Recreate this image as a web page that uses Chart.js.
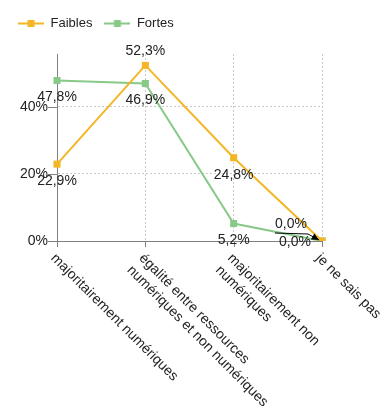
<!DOCTYPE html>
<html>
<head>
<meta charset="utf-8">
<script src="https://cdn.jsdelivr.net/npm/chart.js@4.4.1/dist/chart.umd.min.js"></script>
<style>
  html, body { margin: 0; padding: 0; background: #fff; }
  #wrap { width: 390px; height: 407px; }
</style>
</head>
<body>
<div id="wrap"><canvas id="chart"></canvas></div>
<script>
// categories (multi-line labels)
const categories = [
  ["majoritairement numériques"],
  ["égalité entre ressources", "numériques et non numériques"],
  ["majoritairement non", "numériques"],
  ["je ne sais pas"]
];
const faibles = [22.9, 52.3, 24.8, 0.0];
const fortes = [47.8, 46.9, 5.2, 0.0];
const yTicks = [0, 20, 40];
const yMax = 55.7;

const ORANGE = "#f4b624";
const GREEN = "#88c988";
const TEXT = "#222";
const AXIS = "#808080";
const FONT = "'Liberation Sans', Arial, sans-serif";

Chart.defaults.font.family = FONT;
Chart.defaults.font.size = 14;
Chart.defaults.color = TEXT;

// label offsets from each point [dx, dy]
const labelOffsets = [
  [[0, 17], [0, -14], [0, 17], [-31, -17]],
  [[0, 17], [0, 17], [0, 17], [-27, 1]]
];

function legendIcon(color) {
  const c = document.createElement("canvas");
  c.width = 26; c.height = 9;
  const g = c.getContext("2d");
  g.fillStyle = color;
  g.fillRect(0, 3.5, 26, 2);
  g.fillRect(9.5, 1, 7, 7);
  return c;
}

const fmt = v => v.toFixed(1).replace(".", ",") + "%";

const legendSpace = {
  id: "legendSpace",
  beforeInit(chart) {
    const fit = chart.legend.fit;
    chart.legend.fit = function () {
      fit.bind(chart.legend)();
      this.height = 49;
    };
  }
};

const overlay = {
  id: "overlay",
  afterDraw(chart) {
    const ctx = chart.ctx;
    const x = chart.scales.x, y = chart.scales.y;
    const area = chart.chartArea;
    ctx.save();

    // tick marks
    ctx.strokeStyle = AXIS;
    ctx.lineWidth = 1;
    ctx.beginPath();
    yTicks.forEach(v => {
      const py = Math.round(y.getPixelForValue(v)) + 0.5;
      ctx.moveTo(area.left - 9, py);
      ctx.lineTo(area.left, py);
    });
    chart.data.labels.forEach((l, i) => {
      const px = Math.round(x.getPixelForValue(i)) + 0.5;
      ctx.moveTo(px, area.bottom);
      ctx.lineTo(px, area.bottom + 6);
    });
    ctx.stroke();

    // rotated category labels
    ctx.fillStyle = TEXT;
    ctx.font = "14px " + FONT;
    ctx.textAlign = "left";
    ctx.textBaseline = "middle";
    chart.data.labels.forEach((lines, i) => {
      ctx.save();
      ctx.translate(x.getPixelForValue(i) - 4, area.bottom + 15);
      ctx.rotate(Math.PI / 4);
      lines.forEach((t, k) => ctx.fillText(t, 0, k * 17));
      ctx.restore();
    });

    // value labels
    ctx.textAlign = "center";
    chart.data.datasets.forEach((ds, d) => {
      const meta = chart.getDatasetMeta(d);
      meta.data.forEach((pt, i) => {
        const [dx, dy] = labelOffsets[d][i];
        ctx.fillText(fmt(ds.data[i]), pt.x + dx, pt.y + dy);
      });
    });

    // leader arrow for the last green label
    const p = chart.getDatasetMeta(1).data[3];
    const sx = p.x - 47, sy = p.y - 8;
    const mx = p.x - 14, my = p.y - 7;
    const tx = p.x - 3, ty = p.y - 1;
    ctx.strokeStyle = "#000";
    ctx.beginPath();
    ctx.moveTo(sx, sy);
    ctx.lineTo(mx, my);
    ctx.lineTo(tx, ty);
    ctx.stroke();
    const ang = Math.atan2(ty - my, tx - mx);
    ctx.fillStyle = "#000";
    ctx.beginPath();
    ctx.moveTo(tx, ty);
    ctx.lineTo(tx - 8 * Math.cos(ang - 0.45), ty - 8 * Math.sin(ang - 0.45));
    ctx.lineTo(tx - 8 * Math.cos(ang + 0.45), ty - 8 * Math.sin(ang + 0.45));
    ctx.closePath();
    ctx.fill();

    ctx.restore();
  }
};

new Chart(document.getElementById("chart"), {
  type: "line",
  data: {
    labels: categories,
    datasets: [
      {
        label: "Faibles",
        data: faibles,
        borderColor: ORANGE,
        backgroundColor: ORANGE,
        borderWidth: 2,
        pointStyle: "rect",
        pointRadius: 5,
        pointBorderWidth: 0,
        tension: 0
      },
      {
        label: "Fortes",
        data: fortes,
        borderColor: GREEN,
        backgroundColor: GREEN,
        borderWidth: 2,
        pointStyle: "rect",
        pointRadius: 5,
        pointBorderWidth: 0,
        tension: 0
      }
    ]
  },
  options: {
    responsive: true,
    maintainAspectRatio: false,
    animation: false,
    devicePixelRatio: 1,
    layout: { padding: { left: 6, right: 68, top: 5, bottom: 0 } },
    plugins: {
      tooltip: { enabled: false },
      legend: {
        position: "top",
        align: "start",
        labels: {
          usePointStyle: true,
          pointStyleWidth: 26,
          padding: 12,
          color: TEXT,
          font: { size: 13 },
          generateLabels(chart) {
            return chart.data.datasets.map((ds, i) => ({
              text: ds.label,
              pointStyle: legendIcon(ds.borderColor),
              fillStyle: ds.borderColor,
              strokeStyle: ds.borderColor,
              lineWidth: 0,
              fontColor: TEXT,
              hidden: false,
              datasetIndex: i
            }));
          }
        }
      }
    },
    scales: {
      x: {
        offset: false,
        ticks: { display: false },
        grid: { color: "#c8c8c8", drawTicks: false },
        border: { color: AXIS, dash: [2, 2] },
        afterFit(scale) { scale.height = 166; }
      },
      y: {
        min: 0,
        max: yMax,
        afterBuildTicks(scale) { scale.ticks = yTicks.map(v => ({ value: v })); },
        ticks: { padding: 9, callback: v => v + "%" },
        grid: { color: "#c8c8c8", drawTicks: false },
        border: { color: AXIS, dash: [2, 2] },
        afterFit(scale) { scale.width = 51; }
      }
    }
  },
  plugins: [legendSpace, overlay]
});
</script>
</body>
</html>
